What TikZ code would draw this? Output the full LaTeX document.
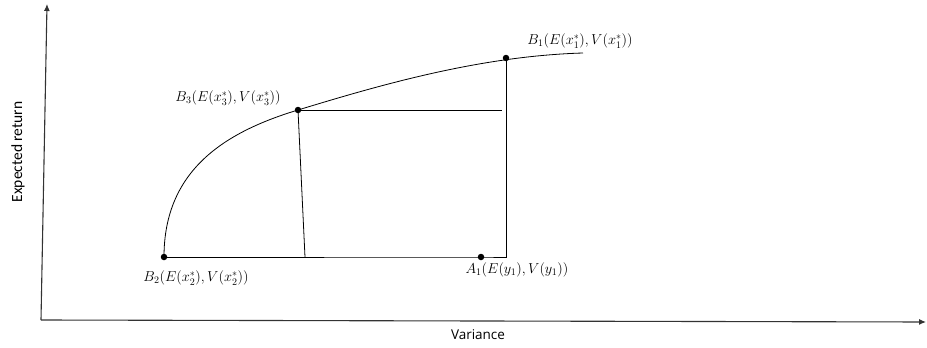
\documentclass[tikz,border=0pt]{standalone}
\usepackage{fontspec}
\newfontfamily\axisfont{Carlito}
\newfontfamily\varfont{Open Sans}
\usetikzlibrary{arrows.meta}
\begin{document}
\begin{tikzpicture}[x=1pt,y=-1pt,
  dotnode/.style={circle,fill=black,inner sep=0pt,minimum size=6.5pt},
  axisline/.style={line width=1.1pt,draw=black!80,-{Latex[length=7pt,width=6pt]}},
  thinline/.style={line width=0.8pt,draw=black},
  lbl/.style={font=\fontsize{14}{16}\selectfont,inner sep=1pt}]
\useasboundingbox (0,0) rectangle (927,348);
% axes
\coordinate (origin) at (41,320);
\coordinate (ytop) at (47,4);
\coordinate (xend) at (926,322);
\draw[axisline] (origin) -- (ytop);
\draw[axisline] (origin) -- (xend);
% points
\node[dotnode] (b2) at (164,257) {};
\node[dotnode] (b3) at (298,110) {};
\node[dotnode] (b1) at (506,58) {};
\node[dotnode] (a1) at (481,257) {};
\coordinate (corner) at (506,257);
\coordinate (foot) at (305,257);
\coordinate (hend) at (502,110);
\coordinate (cend) at (583,53);
% frontier curve
\draw[thinline] (b2.center) .. controls (164,170) and (225,132) .. (b3.center)
  .. controls (380,85) and (480,56) .. (cend);
% lines
\draw[thinline] (b2.center) -- (a1.center) -- (corner) -- (b1.center);
\draw[thinline] (b3.center) -- (foot);
\draw[thinline] (b3.center) -- (hend);
% labels
\node[lbl] (lb1) at (580,41) {$B_1(E(x_1^*),V(x_1^*))$};
\node[lbl] (lb3) at (228,98) {$B_3(E(x_3^*),V(x_3^*))$};
\node[lbl] (lb2) at (196,278) {$B_2(E(x_2^*),V(x_2^*))$};
\node[lbl] (la1) at (517,270) {$A_1(E(y_1),V(y_1))$};
\node[font=\axisfont\fontsize{15.5}{18}\selectfont,rotate=90] (ylab) at (18,152) {Expected return};
\node[font=\varfont\fontsize{13.5}{16}\selectfont] (xlab) at (478,335) {Variance};
\end{tikzpicture}
\end{document}
